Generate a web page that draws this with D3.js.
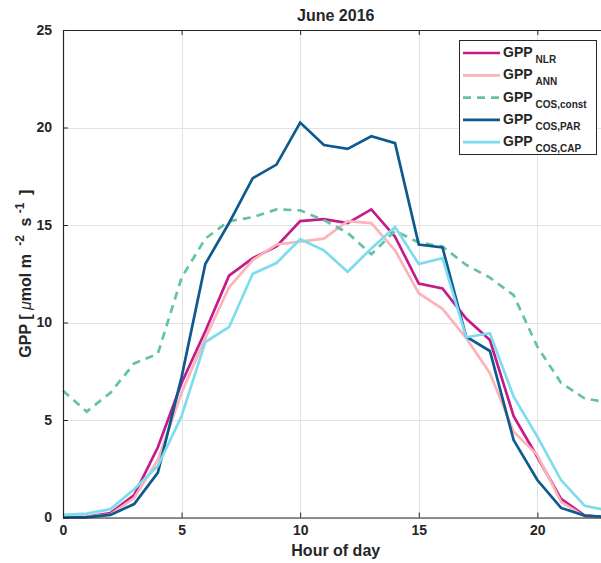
<meta charset="utf-8">
<script src="https://d3js.org/d3.v7.min.js"></script>
<style>
body { margin: 0; background: #fff; }
svg text { font-family: "Liberation Sans", Arial, sans-serif; font-weight: bold; fill: #262626; }
.grid line { stroke: #e3e3e3; stroke-width: 1; shape-rendering: crispEdges; }
.grid path { stroke-width: 0; }
</style>
<div id="chart"></div>
<script>
// hourly GPP values
var hours = d3.range(0, 24);
var gppNLR   = [0, 0.03, 0.23, 1.15, 3.6, 6.9, 9.55, 12.4, 13.3, 13.9, 15.2, 15.3, 15.1, 15.8, 14.4, 12.0, 11.75, 10.2, 9.1, 5.2, 3.1, 0.95, 0.1, 0];
var gppANN   = [0, 0.05, 0.15, 1.0, 2.95, 6.4, 9.2, 11.8, 13.2, 14.0, 14.15, 14.3, 15.2, 15.1, 13.7, 11.5, 10.7, 9.2, 7.4, 4.4, 3.2, 0.8, 0.05, 0];
var gppConst = [6.5, 5.43, 6.4, 7.9, 8.4, 12.3, 14.3, 15.2, 15.4, 15.8, 15.75, 15.25, 14.6, 13.5, 14.7, 14.1, 13.9, 12.95, 12.3, 11.4, 8.76, 6.9, 6.1, 5.9];
var gppPAR   = [0, 0.02, 0.13, 0.69, 2.3, 7.2, 13.0, 15.1, 17.4, 18.1, 20.25, 19.1, 18.9, 19.55, 19.2, 14.0, 13.85, 9.27, 8.54, 3.97, 1.92, 0.49, 0.1, 0.03];
var gppCAP   = [0.13, 0.2, 0.43, 1.45, 2.64, 5.2, 9.0, 9.76, 12.5, 13.05, 14.27, 13.7, 12.6, 13.8, 14.9, 13.0, 13.3, 9.24, 9.45, 6.2, 4.15, 1.92, 0.6, 0.35];
var xTicks = [0, 5, 10, 15, 20];
var yTicks = [0, 5, 10, 15, 20, 25];

var series = [
    {sub: "NLR", values: gppNLR, color: "#c51b8a", dash: null},
    {sub: "ANN", values: gppANN, color: "#fbb4b9", dash: null},
    {sub: "COS,const", values: gppConst, color: "#66c2a4", dash: "8,6"},
    {sub: "COS,PAR", values: gppPAR, color: "#0c5a8f", dash: null},
    {sub: "COS,CAP", values: gppCAP, color: "#7ddcee", dash: null}
];

var W = 601, H = 563;
var plotL = 63, plotT = 30, plotR = 608.5, plotB = 517.5;

var svg = d3.select("#chart").append("svg")
    .attr("width", W)
    .attr("height", H);

var x = d3.scaleLinear().domain([0, 23]).range([plotL, plotR]);
var y = d3.scaleLinear().domain([0, 25]).range([plotB, plotT]);

// grid
svg.append("g")
    .attr("class", "grid")
    .attr("transform", "translate(0," + plotB + ")")
    .call(d3.axisBottom(x).tickValues(xTicks).tickSize(-(plotB - plotT)).tickFormat(""));
svg.append("g")
    .attr("class", "grid")
    .attr("transform", "translate(" + plotL + ",0)")
    .call(d3.axisLeft(y).tickValues(yTicks).tickSize(-(plotR - plotL)).tickFormat(""));

// lines
var line = d3.line()
    .x(function(d, i) { return x(hours[i]); })
    .y(function(d) { return y(d); });

series.forEach(function(s) {
    svg.append("path")
        .datum(s.values)
        .attr("fill", "none")
        .attr("stroke", s.color)
        .attr("stroke-width", 2.7)
        .attr("stroke-linejoin", "miter")
        .attr("stroke-dasharray", s.dash)
        .attr("d", line);
});

// box + ticks (matlab style, ticks inward)
function styleAxis(g) {
    g.select(".domain").attr("stroke", "#262626").attr("stroke-width", 1.2);
    g.selectAll(".tick line").attr("stroke", "#262626");
    g.selectAll("text").attr("font-size", "14px").attr("fill", "#262626").attr("font-weight", "bold");
}
svg.append("g")
    .attr("transform", "translate(0," + plotB + ")")
    .call(d3.axisBottom(x).tickValues(xTicks).tickSizeInner(-5).tickSizeOuter(0).tickPadding(8))
    .call(styleAxis);
svg.append("g")
    .attr("transform", "translate(0," + plotT + ")")
    .call(d3.axisTop(x).tickValues(xTicks).tickSizeInner(-5).tickSizeOuter(0).tickFormat(""))
    .call(styleAxis);
svg.append("g")
    .attr("transform", "translate(" + plotL + ",0)")
    .call(d3.axisLeft(y).tickValues(yTicks).tickSizeInner(-5).tickSizeOuter(0).tickPadding(11))
    .call(styleAxis);

// title and labels
svg.append("text")
    .attr("x", (plotL + plotR) / 2)
    .attr("y", 21)
    .attr("text-anchor", "middle")
    .attr("font-size", "16px")
    .text("June 2016");

svg.append("text")
    .attr("x", (plotL + plotR) / 2)
    .attr("y", 556)
    .attr("text-anchor", "middle")
    .attr("font-size", "16px")
    .text("Hour of day");

var yl = svg.append("text")
    .attr("transform", "translate(31," + ((plotT + plotB) / 2) + ") rotate(-90)")
    .attr("text-anchor", "middle")
    .attr("font-size", "16px");
yl.append("tspan").text("GPP [ ");
yl.append("tspan").attr("font-style", "italic").attr("font-weight", "normal").text("\u03bc");
yl.append("tspan").text("mol m ");
yl.append("tspan").attr("dx", 4).attr("dy", -7).attr("font-size", "12px").text("-2");
yl.append("tspan").attr("dx", 4).attr("dy", 7).text(" s ");
yl.append("tspan").attr("dy", -7).attr("font-size", "12px").text("-1");
yl.append("tspan").attr("dx", 3).attr("dy", 7).text(" ]");

// legend
var lg = svg.append("g");
lg.append("rect")
    .attr("x", 459.5).attr("y", 40.5)
    .attr("width", 137).attr("height", 114)
    .attr("fill", "#fff")
    .attr("stroke", "#262626")
    .attr("stroke-width", 1);

series.forEach(function(s, i) {
    var ly = 53 + i * 22.3;
    lg.append("line")
        .attr("x1", 463).attr("x2", 500)
        .attr("y1", ly).attr("y2", ly)
        .attr("stroke", s.color)
        .attr("stroke-width", 2.7)
        .attr("stroke-dasharray", s.dash);
    var t = lg.append("text")
        .attr("x", 503)
        .attr("y", ly + 4)
        .attr("font-size", "14px")
        .attr("fill", "#000");
    t.append("tspan").text("GPP");
    t.append("tspan").attr("dx", 3).attr("dy", 6).attr("font-size", "10px").text(s.sub);
});
</script>
